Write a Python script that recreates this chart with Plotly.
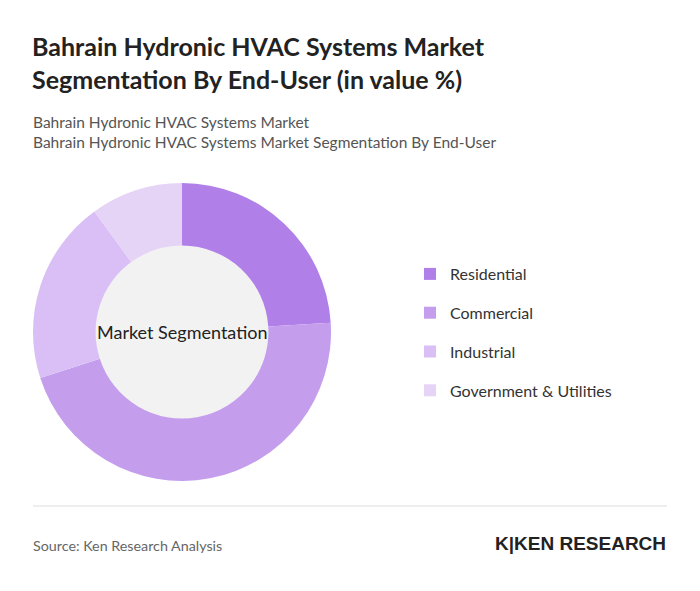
import plotly.graph_objects as go

labels = ["Residential", "Commercial", "Industrial", "Government & Utilities"]
values = [24, 46, 20, 10]
colors = ["#b07fe8", "#c49ded", "#d9bff5", "#e6d4f7"]

W, H = 700, 591
OFF = 8
def px(x): return (x - OFF) / W
def py(y): return 1 - (y - OFF) / H

fig = go.Figure()
fig.add_trace(go.Pie(labels=labels, values=values, hole=0.58, sort=False, direction="clockwise",
                     rotation=0, marker=dict(colors=colors, line=dict(width=0)), textinfo="none",
                     hoverinfo="label+percent", showlegend=False,
                     domain=dict(x=[px(33), px(331)], y=[py(481), py(183)])))
for i, (l, c) in enumerate(zip(labels, colors)):
    fig.add_trace(go.Scatter(x=[None], y=[None], mode="markers", name=l, legendgroup=str(i),
                             marker=dict(symbol="square", size=17, color=c)))

fig.add_shape(type="circle", xref="paper", yref="paper", layer="below",
              x0=px(95), x1=px(269), y0=py(419), y1=py(245), fillcolor="#f2f2f2", line=dict(width=0))
fig.add_shape(type="line", xref="paper", yref="paper", x0=px(33), x1=px(667), y0=py(506), y1=py(506),
              line=dict(color="#dddddd", width=1))

ann = [
    dict(x=px(30), y=py(29), text="<b>Bahrain Hydronic HVAC Systems Market<br>Segmentation By End-User (in value %)</b>",
         font=dict(size=25, color="#222222", family="Lato"), yanchor="top"),
    dict(x=px(31), y=py(111), text="Bahrain Hydronic HVAC Systems Market<br>Bahrain Hydronic HVAC Systems Market Segmentation By End-User",
         font=dict(size=15.5, color="#555555", family="Lato"), yanchor="top"),
    dict(x=px(31), y=py(545), text="Source: Ken Research Analysis", font=dict(size=14.3, color="#666666", family="Lato"),
         yanchor="middle"),
    dict(x=px(182), y=py(332), text="Market Segmentation", font=dict(size=18, color="#222222", family="Lato"),
         xanchor="center", yanchor="middle"),
    dict(x=px(668), y=py(543), text="<b>K|KEN RESEARCH</b>", font=dict(size=19, color="#222222", family="Liberation Sans"),
         xanchor="right", yanchor="middle"),
]
for a in ann:
    a.setdefault("xanchor", "left")
    fig.add_annotation(xref="paper", yref="paper", showarrow=False, align="left", **a)

fig.update_layout(width=W, height=H, margin=dict(l=0, r=0, t=0, b=0), paper_bgcolor="white",
                  plot_bgcolor="white",
                  xaxis=dict(visible=False), yaxis=dict(visible=False),
                  legend=dict(x=px(410), y=py(257), xanchor="left", yanchor="top", tracegroupgap=15,
                              font=dict(size=16, color="#333333", family="Lato"), itemsizing="constant"))
fig.write_html("out.html")
